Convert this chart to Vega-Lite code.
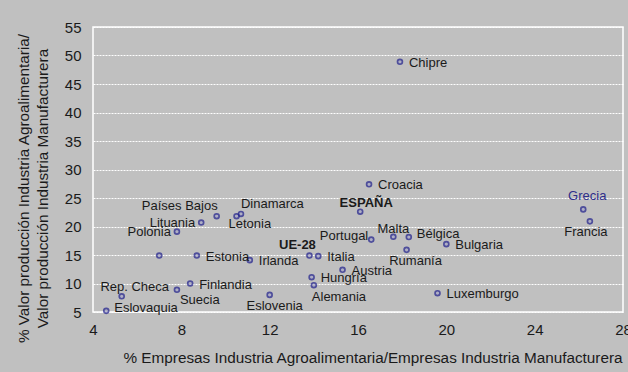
{
  "$schema": "https://vega.github.io/schema/vega-lite/v6.json",
  "width": 530,
  "height": 285,
  "autosize": {"type": "none"},
  "padding": {"left": 93, "top": 27, "right": 5, "bottom": 60},
  "background": "#C0C0C0",
  "config": {
    "view": {"stroke": "white", "strokeWidth": 1.5, "fill": "#C0C0C0"},
    "font": "Liberation Sans",
    "text": {"font": "Liberation Sans", "fontSize": 13, "color": "#1a1a1a", "baseline": "middle"}
  },
  "data": {
    "values": [
      {"pais": "Chipre", "x": 17.9, "y": 48.9},
      {"pais": "Croacia", "x": 16.5, "y": 27.4},
      {"pais": "ESPAÑA", "x": 16.1, "y": 22.6},
      {"pais": "Portugal", "x": 16.6, "y": 17.7},
      {"pais": "Malta", "x": 17.6, "y": 18.2},
      {"pais": "Bélgica", "x": 18.3, "y": 18.15},
      {"pais": "Rumanía", "x": 18.2, "y": 15.9},
      {"pais": "Bulgaria", "x": 20.0, "y": 16.9},
      {"pais": "Luxemburgo", "x": 19.6, "y": 8.3},
      {"pais": "Grecia", "x": 26.2, "y": 23.0},
      {"pais": "Francia", "x": 26.5, "y": 20.9},
      {"pais": "UE-28", "x": 13.8, "y": 14.9},
      {"pais": "Italia", "x": 14.2, "y": 14.8},
      {"pais": "Austria", "x": 15.3, "y": 12.4},
      {"pais": "Hungría", "x": 13.9, "y": 11.1},
      {"pais": "Alemania", "x": 14.0, "y": 9.7},
      {"pais": "Países Bajos", "x": 9.6, "y": 21.8},
      {"pais": "Dinamarca", "x": 10.7, "y": 22.2},
      {"pais": "Letonia", "x": 10.5, "y": 21.8},
      {"pais": "Lituania", "x": 8.9, "y": 20.7},
      {"pais": "Polonia", "x": 7.8, "y": 19.1},
      {"pais": "Reino Unido", "x": 7.0, "y": 14.9},
      {"pais": "Estonia", "x": 8.7, "y": 14.9},
      {"pais": "Irlanda", "x": 11.1, "y": 14.1},
      {"pais": "Finlandia", "x": 8.4, "y": 10.0},
      {"pais": "Suecia", "x": 7.8, "y": 8.9},
      {"pais": "Rep. Checa", "x": 5.3, "y": 7.75},
      {"pais": "Eslovaquia", "x": 4.6, "y": 5.2},
      {"pais": "Eslovenia", "x": 12.0, "y": 8.0}
    ]
  },
  "encoding": {
    "x": {
      "field": "x", "type": "quantitative",
      "scale": {"domain": [4, 28], "nice": false, "zero": false},
      "axis": {
        "values": [4, 8, 12, 16, 20, 24, 28],
        "grid": false, "ticks": false, "domain": false,
        "labelFont": "Liberation Sans", "labelFontSize": 15, "labelColor": "#1a1a1a",
        "labelPadding": 10, "labelFlush": false,
        "title": "% Empresas Industria Agroalimentaria/Empresas Industria Manufacturera",
        "titleFont": "Liberation Sans", "titleFontSize": 15.3, "titleFontWeight": "normal", "titleColor": "#1a1a1a",
        "titlePadding": 13, "titleAnchor": "start", "titleX": 30
      }
    },
    "y": {
      "field": "y", "type": "quantitative",
      "scale": {"domain": [5, 55], "nice": false, "zero": false},
      "axis": {
        "values": [5, 10, 15, 20, 25, 30, 35, 40, 45, 50, 55],
        "grid": true, "gridColor": "white", "gridDash": [2, 1], "gridWidth": 1,
        "ticks": false, "domain": false,
        "labelFont": "Liberation Sans", "labelFontSize": 15, "labelColor": "#1a1a1a",
        "labelPadding": 12,
        "title": ["% Valor producción Industria Agroalimentaria/", "Valor producción Industria Manufacturera"],
        "titleFont": "Liberation Sans", "titleFontSize": 15.3, "titleFontWeight": "normal", "titleColor": "#1a1a1a",
        "titlePadding": 14, "titleLineHeight": 19, "titleY": 161
      }
    }
  },
  "layer": [
    {
      "mark": {"type": "point", "shape": "circle", "filled": true, "size": 24, "fill": "#a8a8c8", "stroke": "#1e1e8c", "strokeWidth": 1.7}
    },
    {
      "transform": [{"filter": {"field": "pais", "oneOf": ["Chipre", "Croacia", "Bulgaria", "Luxemburgo", "Italia", "Austria", "Hungría", "Estonia", "Irlanda", "Finlandia"]}}],
      "mark": {"type": "text", "align": "left", "dx": 9, "dy": 1},
      "encoding": {"text": {"field": "pais"}}
    },
    {
      "transform": [{"filter": {"field": "pais", "oneOf": ["Bélgica", "Eslovaquia"]}}],
      "mark": {"type": "text", "align": "left", "dx": 8, "dy": -3},
      "encoding": {"text": {"field": "pais"}}
    },
    {
      "transform": [{"filter": {"field": "pais", "oneOf": ["Portugal"]}}],
      "mark": {"type": "text", "align": "right", "dx": -3, "dy": -4},
      "encoding": {"text": {"field": "pais"}}
    },
    {
      "transform": [{"filter": {"field": "pais", "oneOf": ["Polonia", "Lituania"]}}],
      "mark": {"type": "text", "align": "right", "dx": -6, "dy": 0},
      "encoding": {"text": {"field": "pais"}}
    },
    {
      "transform": [{"filter": {"field": "pais", "oneOf": ["Malta"]}}],
      "mark": {"type": "text", "align": "center", "dx": 0, "dy": -8},
      "encoding": {"text": {"field": "pais"}}
    },
    {
      "transform": [{"filter": {"field": "pais", "oneOf": ["Rep. Checa"]}}],
      "mark": {"type": "text", "align": "center", "dx": 13, "dy": -9},
      "encoding": {"text": {"field": "pais"}}
    },
    {
      "transform": [{"filter": {"field": "pais", "oneOf": ["Grecia"]}}],
      "mark": {"type": "text", "align": "center", "dx": 4, "dy": -13, "color": "#2e2e8a"},
      "encoding": {"text": {"field": "pais"}}
    },
    {
      "transform": [{"filter": {"field": "pais", "oneOf": ["ESPAÑA"]}}],
      "mark": {"type": "text", "align": "center", "dx": 6, "dy": -9, "fontWeight": "bold"},
      "encoding": {"text": {"field": "pais"}}
    },
    {
      "transform": [{"filter": {"field": "pais", "oneOf": ["UE-28"]}}],
      "mark": {"type": "text", "align": "center", "dx": -12, "dy": -11, "fontWeight": "bold"},
      "encoding": {"text": {"field": "pais"}}
    },
    {
      "transform": [{"filter": {"field": "pais", "oneOf": ["Rumanía"]}}],
      "mark": {"type": "text", "align": "center", "dx": 9, "dy": 11},
      "encoding": {"text": {"field": "pais"}}
    },
    {
      "transform": [{"filter": {"field": "pais", "oneOf": ["Francia"]}}],
      "mark": {"type": "text", "align": "center", "dx": -4, "dy": 11},
      "encoding": {"text": {"field": "pais"}}
    },
    {
      "transform": [{"filter": {"field": "pais", "oneOf": ["Eslovenia"]}}],
      "mark": {"type": "text", "align": "center", "dx": 5, "dy": 11},
      "encoding": {"text": {"field": "pais"}}
    },
    {
      "transform": [{"filter": {"field": "pais", "oneOf": ["Alemania"]}}],
      "mark": {"type": "text", "align": "left", "dx": -2, "dy": 12},
      "encoding": {"text": {"field": "pais"}}
    },
    {
      "transform": [{"filter": {"field": "pais", "oneOf": ["Suecia"]}}],
      "mark": {"type": "text", "align": "left", "dx": 3, "dy": 10},
      "encoding": {"text": {"field": "pais"}}
    },
    {
      "transform": [{"filter": {"field": "pais", "oneOf": ["Letonia"]}}],
      "mark": {"type": "text", "align": "left", "dx": -8, "dy": 8},
      "encoding": {"text": {"field": "pais"}}
    },
    {
      "transform": [{"filter": {"field": "pais", "oneOf": ["Dinamarca"]}}],
      "mark": {"type": "text", "align": "left", "dx": 0, "dy": -10},
      "encoding": {"text": {"field": "pais"}}
    },
    {
      "transform": [{"filter": {"field": "pais", "oneOf": ["Países Bajos"]}}],
      "mark": {"type": "text", "align": "right", "dx": 1, "dy": -10},
      "encoding": {"text": {"field": "pais"}}
    }
  ]
}
